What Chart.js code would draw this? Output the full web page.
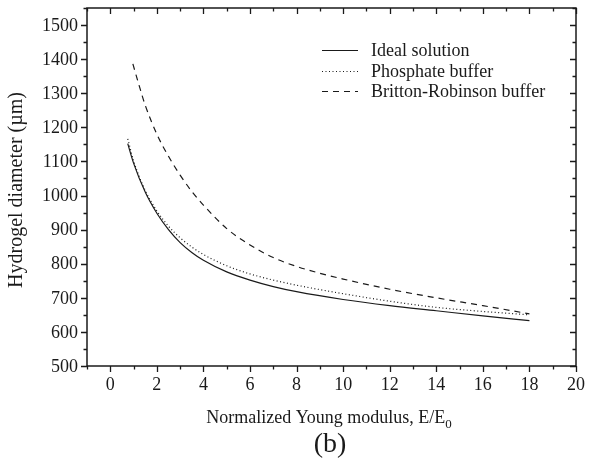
<!DOCTYPE html>
<html>
<head>
<meta charset="utf-8">
<script src="https://cdn.jsdelivr.net/npm/chart.js@4.4.1/dist/chart.umd.min.js"></script>
<style>
  html, body { margin: 0; padding: 0; background: #fff; }
  #wrap { width: 592px; height: 461px; position: relative; }
</style>
</head>
<body>
<div id="wrap"><canvas id="chart" width="592" height="461"></canvas></div>
<script>
// Data
const seriesNames = ['Ideal solution', 'Phosphate buffer', 'Britton-Robinson buffer'];

const idealX = [0.75, 1, 1.5, 2, 2.5, 3, 3.5, 4, 5, 6, 7, 8, 10, 12, 14, 16, 18];
const idealY = [1152, 1095, 1010, 948, 900, 862, 833, 810, 776, 752, 733, 718, 695, 677, 662, 647, 633];

const phosphateX = [0.75, 1, 1.5, 2, 2.5, 3, 3.5, 4, 5, 6, 7, 8, 10, 12, 14, 16, 18];
const phosphateY = [1166, 1102, 1015, 955, 910, 876, 849, 827, 794, 770, 752, 737, 712, 690, 672, 660, 650];

const brX = [0.97, 1.25, 1.5, 2, 2.5, 3, 3.5, 4, 5, 6, 7, 8, 9, 10, 12, 14, 16, 18];
const brY = [1386, 1320, 1265, 1180, 1115, 1060, 1012, 972, 903, 855, 818, 792, 772, 755, 725, 700, 677, 653];

const xMajorTicks = [0, 2, 4, 6, 8, 10, 12, 14, 16, 18, 20];
const yMajorTicks = [500, 600, 700, 800, 900, 1000, 1100, 1200, 1300, 1400, 1500];

const toPoints = (xs, ys) => xs.map((x, i) => ({ x, y: ys[i] }));

const INK = '#1a1a1a';
const SERIF = '"Liberation Serif", "Times New Roman", serif';

// frame, ticks, legend and titles
const decorPlugin = {
    id: 'decor',
    afterDraw(chart) {
        const { ctx, chartArea: a, scales: { x, y } } = chart;
        ctx.save();
        ctx.strokeStyle = INK;
        ctx.lineWidth = 1.5;
        ctx.strokeRect(a.left, a.top, a.right - a.left, a.bottom - a.top);

        ctx.lineWidth = 1.3;
        ctx.beginPath();
        for (let v = -1; v <= 20; v++) {
            const px = Math.round(x.getPixelForValue(v)) + 0.5;
            const major = v % 2 === 0 && v >= 0;
            const len = major ? 6 : 3.5;
            ctx.moveTo(px, a.bottom); ctx.lineTo(px, a.bottom + len);
            ctx.moveTo(px, a.top); ctx.lineTo(px, a.top + len);
        }
        for (let v = 500; v <= 1550; v += 50) {
            const py = Math.round(y.getPixelForValue(v)) + 0.5;
            const major = v % 100 === 0;
            const len = major ? 6 : 3.5;
            ctx.moveTo(a.left, py); ctx.lineTo(a.left - len, py);
            ctx.moveTo(a.right, py); ctx.lineTo(a.right - len, py);
        }
        ctx.stroke();

        // tick labels
        ctx.fillStyle = INK;
        ctx.font = '18px ' + SERIF;
        ctx.textAlign = 'center';
        ctx.textBaseline = 'top';
        xMajorTicks.forEach(v => ctx.fillText(String(v), x.getPixelForValue(v), a.bottom + 10));
        ctx.textAlign = 'right';
        ctx.textBaseline = 'middle';
        yMajorTicks.forEach(v => ctx.fillText(String(v), a.left - 9, y.getPixelForValue(v) + 1));

        // x title with subscript
        ctx.font = '18px ' + SERIF;
        ctx.textAlign = 'left';
        ctx.textBaseline = 'alphabetic';
        const main = 'Normalized Young modulus, E/E';
        const w = ctx.measureText(main).width;
        ctx.font = '13px ' + SERIF;
        const ws = ctx.measureText('0').width;
        const startX = 329 - (w + ws) / 2;
        ctx.font = '18px ' + SERIF;
        ctx.fillText(main, startX, 423);
        ctx.font = '13px ' + SERIF;
        ctx.fillText('0', startX + w, 428);

        // (b)
        ctx.font = '28px ' + SERIF;
        ctx.textAlign = 'center';
        ctx.fillText('(b)', 330, 452);

        // y title
        ctx.save();
        ctx.translate(22, 190);
        ctx.rotate(-Math.PI / 2);
        ctx.font = '20px ' + SERIF;
        ctx.textAlign = 'center';
        ctx.textBaseline = 'alphabetic';
        ctx.fillText('Hydrogel diameter (\u00b5m)', 0, 0);
        ctx.restore();

        // legend
        const rows = [50, 71, 91];
        chart.data.datasets.forEach((ds, i) => {
            ctx.strokeStyle = ds.borderColor;
            ctx.lineWidth = ds.borderWidth;
            ctx.setLineDash(ds.borderDash || []);
            ctx.beginPath();
            ctx.moveTo(322, rows[i] + 0.5);
            ctx.lineTo(358, rows[i] + 0.5);
            ctx.stroke();
            ctx.setLineDash([]);
            ctx.fillStyle = INK;
            ctx.font = '18px ' + SERIF;
            ctx.textAlign = 'left';
            ctx.textBaseline = 'middle';
            ctx.fillText(ds.label, 371, rows[i] + 1);
        });
        ctx.restore();
    }
};

new Chart(document.getElementById('chart'), {
    type: 'scatter',
    data: {
        datasets: [
            { label: seriesNames[0], data: toPoints(idealX, idealY), showLine: true, borderColor: INK, borderWidth: 1.2, pointRadius: 0, cubicInterpolationMode: 'monotone' },
            { label: seriesNames[1], data: toPoints(phosphateX, phosphateY), showLine: true, borderColor: INK, borderWidth: 1.2, borderDash: [1, 2.5], pointRadius: 0, cubicInterpolationMode: 'monotone' },
            { label: seriesNames[2], data: toPoints(brX, brY), showLine: true, borderColor: INK, borderWidth: 1.2, borderDash: [6, 5], pointRadius: 0, cubicInterpolationMode: 'monotone' }
        ]
    },
    options: {
        responsive: false,
        animation: false,
        layout: { padding: { top: 8, right: 16, left: 0, bottom: 0 } },
        plugins: { legend: { display: false }, tooltip: { enabled: false } },
        scales: {
            x: {
                type: 'linear', min: -1, max: 20,
                ticks: { display: false },
                grid: { display: false },
                border: { display: false },
                afterFit: s => { s.height = 95; }
            },
            y: {
                type: 'linear', min: 500, max: 1550,
                ticks: { display: false },
                grid: { display: false },
                border: { display: false },
                afterFit: s => { s.width = 87; }
            }
        }
    },
    plugins: [decorPlugin]
});
</script>
</body>
</html>
